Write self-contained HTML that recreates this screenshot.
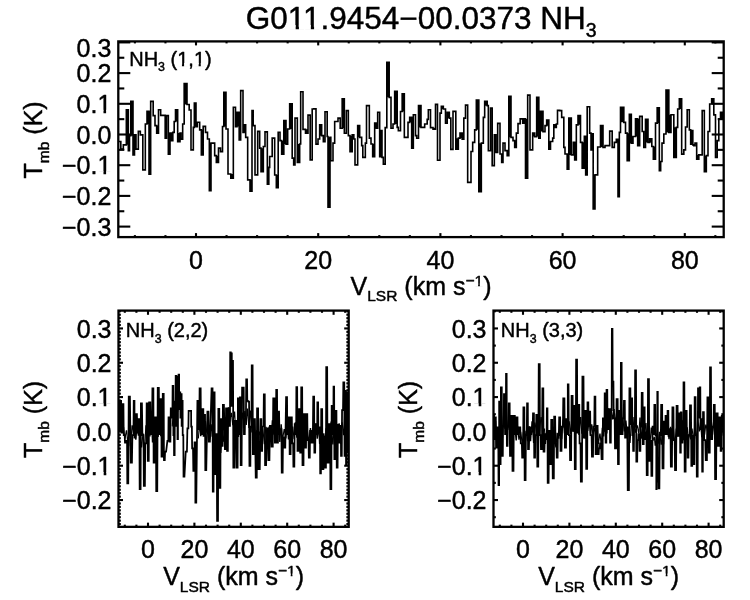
<!DOCTYPE html>
<html><head><meta charset="utf-8"><title>G011.9454-00.0373 NH3</title>
<style>
html,body{margin:0;padding:0;background:#fff;}
body{width:750px;height:600px;overflow:hidden;}
svg{display:block;font-family:"Liberation Sans", sans-serif;fill:#000;will-change:transform;}
text{stroke:#000;stroke-width:0.45px;stroke-linejoin:round;}
</style></head><body>
<svg width="750" height="600" viewBox="0 0 750 600">
<rect width="750" height="600" fill="#fff"/>
<clipPath id="ct"><rect x="118.3" y="41.4" width="605.4" height="195.7"/></clipPath>
<path clip-path="url(#ct)" d="M118.30 141.50 L120.83 141.50 L120.83 149.08 L123.33 149.08 L123.33 144.83 L126.33 144.83 L126.33 109.75 L128.33 109.75 L128.33 150.75 L129.50 150.75 L129.50 135.67 L130.83 135.67 L130.83 101.42 L133.00 101.42 L133.00 154.92 L134.50 154.92 L134.50 134.75 L136.00 134.75 L136.00 149.08 L138.33 149.08 L138.33 131.42 L140.33 131.42 L140.33 134.83 L142.83 134.83 L142.83 169.92 L145.33 169.92 L145.33 124.00 L147.00 124.00 L147.00 111.42 L149.00 111.42 L149.00 174.08 L150.67 174.08 L150.67 101.42 L153.17 101.42 L153.17 115.67 L155.00 115.67 L155.00 125.67 L156.67 125.67 L156.67 133.25 L158.50 133.25 L158.50 109.75 L160.67 109.75 L160.67 115.33 L165.17 115.33 L165.17 138.25 L166.50 138.25 L166.50 115.58 L168.33 115.58 L168.33 154.08 L170.00 154.08 L170.00 133.08 L171.33 133.08 L171.33 140.75 L172.83 140.75 L172.83 132.33 L174.17 132.33 L174.17 121.50 L175.50 121.50 L175.50 109.75 L177.67 109.75 L177.67 141.58 L180.00 141.58 L180.00 133.08 L181.00 133.08 L181.00 139.08 L182.67 139.08 L182.67 124.00 L184.17 124.00 L184.17 83.58 L187.00 83.58 L187.00 104.50 L189.17 104.50 L189.17 110.00 L191.00 110.00 L191.00 149.92 L193.33 149.92 L193.33 127.33 L194.33 127.33 L194.33 103.08 L196.00 103.08 L196.00 126.58 L197.33 126.58 L197.33 122.25 L199.67 122.25 L199.67 129.83 L201.33 129.83 L201.33 154.92 L203.17 154.92 L203.17 126.42 L205.50 126.42 L205.50 132.33 L207.50 132.33 L207.50 139.00 L209.33 139.00 L209.33 190.75 L211.00 190.75 L211.00 143.08 L214.67 143.08 L214.67 155.67 L216.33 155.67 L216.33 162.42 L218.50 162.42 L218.50 148.08 L220.50 148.08 L220.50 151.58 L222.50 151.58 L222.50 126.50 L223.83 126.50 L223.83 92.25 L226.00 92.25 L226.00 129.00 L228.00 129.00 L228.00 174.00 L230.83 174.00 L230.83 178.25 L233.33 178.25 L233.33 107.25 L235.50 107.25 L235.50 126.58 L237.00 126.58 L237.00 112.25 L239.17 112.25 L239.17 139.92 L240.67 139.92 L240.67 90.58 L243.00 90.58 L243.00 132.42 L244.00 132.42 L244.00 124.75 L245.67 124.75 L245.67 137.33 L247.67 137.33 L247.67 179.83 L250.00 179.83 L250.00 191.25 L252.00 191.25 L252.00 110.58 L253.17 110.58 L253.17 125.67 L255.00 125.67 L255.00 174.92 L257.67 174.92 L257.67 131.42 L259.67 131.42 L259.67 148.17 L261.00 148.17 L261.00 171.58 L263.33 171.58 L263.33 146.50 L265.00 146.50 L265.00 131.92 L267.33 131.92 L267.33 184.25 L268.83 184.25 L268.83 167.33 L269.67 167.33 L269.67 156.50 L272.17 156.50 L272.17 138.08 L274.67 138.08 L274.67 175.00 L276.33 175.00 L276.33 187.75 L278.17 187.75 L278.17 132.25 L280.00 132.25 L280.00 140.67 L281.67 140.67 L281.67 154.08 L283.83 154.08 L283.83 120.58 L286.00 120.58 L286.00 144.08 L287.67 144.08 L287.67 129.00 L289.67 129.00 L289.67 103.92 L292.17 103.92 L292.17 158.17 L293.67 158.17 L293.67 164.92 L295.00 164.92 L295.00 118.08 L297.33 118.08 L297.33 162.42 L299.67 162.42 L299.67 144.00 L300.67 144.00 L300.67 91.75 L303.00 91.75 L303.00 129.33 L305.50 129.33 L305.50 133.25 L308.00 133.25 L308.00 115.08 L310.17 115.08 L310.17 159.92 L312.17 159.92 L312.17 109.00 L313.83 109.00 L313.83 108.92 L316.00 108.92 L316.00 144.08 L318.00 144.08 L318.00 139.00 L319.67 139.00 L319.67 124.75 L321.67 124.75 L321.67 135.67 L323.33 135.67 L323.33 141.58 L325.00 141.58 L325.00 111.75 L327.17 111.75 L327.17 136.50 L328.00 136.50 L328.00 207.25 L330.00 207.25 L330.00 137.25 L330.83 137.25 L330.83 160.75 L333.00 160.75 L333.00 143.17 L334.67 143.17 L334.67 121.50 L338.00 121.50 L338.00 118.08 L340.17 118.08 L340.17 128.25 L342.17 128.25 L342.17 98.92 L344.33 98.92 L344.33 133.25 L346.33 133.25 L346.33 110.58 L348.33 110.58 L348.33 135.67 L350.00 135.67 L350.00 151.58 L352.17 151.58 L352.17 134.75 L353.83 134.75 L353.83 139.00 L355.00 139.00 L355.00 164.92 L357.67 164.92 L357.67 125.58 L359.67 125.58 L359.67 137.33 L361.67 137.33 L361.67 145.67 L362.83 145.67 L362.83 157.42 L365.33 157.42 L365.33 143.17 L366.50 143.17 L366.50 105.67 L368.00 105.67 L368.00 105.67 L369.33 105.67 L369.33 138.17 L371.00 138.17 L371.00 144.00 L372.67 144.00 L372.67 156.58 L374.67 156.58 L374.67 123.08 L376.33 123.08 L376.33 128.25 L377.67 128.25 L377.67 112.25 L379.67 112.25 L379.67 156.58 L381.00 156.58 L381.00 130.58 L382.00 130.58 L382.00 157.33 L383.33 157.33 L383.33 164.08 L385.17 164.08 L385.17 127.67 L386.83 127.67 L386.83 62.25 L389.17 62.25 L389.17 97.33 L391.00 97.33 L391.00 128.25 L393.00 128.25 L393.00 124.00 L394.67 124.00 L394.67 91.42 L397.17 91.42 L397.17 127.33 L398.33 127.33 L398.33 130.75 L400.50 130.75 L400.50 111.50 L402.17 111.50 L402.17 93.92 L404.33 93.92 L404.33 137.42 L408.00 137.42 L408.00 122.33 L409.67 122.33 L409.67 117.25 L411.67 117.25 L411.67 148.25 L413.33 148.25 L413.33 114.75 L415.50 114.75 L415.50 135.67 L416.67 135.67 L416.67 138.25 L418.50 138.25 L418.50 105.58 L421.00 105.58 L421.00 127.42 L424.67 127.42 L424.67 124.00 L427.17 124.00 L427.17 119.33 L428.33 119.33 L428.33 109.75 L430.50 109.75 L430.50 127.67 L433.00 127.67 L433.00 129.08 L435.50 129.08 L435.50 104.42 L437.50 104.42 L437.50 160.25 L440.00 160.25 L440.00 113.17 L441.33 113.17 L441.33 106.42 L443.33 106.42 L443.33 109.00 L445.50 109.00 L445.50 123.25 L447.17 123.25 L447.17 112.25 L449.33 112.25 L449.33 118.17 L450.83 118.17 L450.83 149.42 L453.00 149.42 L453.00 111.42 L455.83 111.42 L455.83 149.08 L458.33 149.08 L458.33 138.17 L460.00 138.17 L460.00 133.08 L462.17 133.08 L462.17 139.08 L463.83 139.08 L463.83 118.17 L465.50 118.17 L465.50 105.08 L467.67 105.08 L467.67 182.42 L471.00 182.42 L471.00 151.50 L472.67 151.50 L472.67 142.33 L474.67 142.33 L474.67 129.83 L476.33 129.83 L476.33 100.08 L478.83 100.08 L478.83 191.75 L481.33 191.75 L481.33 143.17 L483.33 143.17 L483.33 117.33 L484.67 117.33 L484.67 101.42 L487.17 101.42 L487.17 105.67 L488.33 105.67 L488.33 150.75 L490.50 150.75 L490.50 108.08 L492.17 108.08 L492.17 165.67 L493.00 165.67 L493.00 165.67 L494.33 165.67 L494.33 134.75 L496.00 134.75 L496.00 152.42 L497.67 152.42 L497.67 123.42 L500.00 123.42 L500.00 154.00 L501.67 154.00 L501.67 162.42 L503.00 162.42 L503.00 143.08 L505.00 143.08 L505.00 150.67 L507.17 150.67 L507.17 155.75 L508.83 155.75 L508.83 96.42 L511.00 96.42 L511.00 137.33 L513.00 137.33 L513.00 140.67 L514.67 140.67 L514.67 147.42 L516.33 147.42 L516.33 133.17 L518.00 133.17 L518.00 123.67 L520.17 123.67 L520.17 118.92 L522.67 118.92 L522.67 123.25 L524.00 123.25 L524.00 118.92 L525.50 118.92 L525.50 178.25 L527.67 178.25 L527.67 95.08 L530.00 95.08 L530.00 149.92 L532.67 149.92 L532.67 133.08 L534.67 133.08 L534.67 136.58 L536.67 136.58 L536.67 97.25 L538.83 97.25 L538.83 138.25 L540.17 138.25 L540.17 111.42 L543.00 111.42 L543.00 131.58 L545.00 131.58 L545.00 125.67 L546.67 125.67 L546.67 120.08 L548.83 120.08 L548.83 149.08 L550.50 149.08 L550.50 141.50 L552.67 141.50 L552.67 138.17 L553.83 138.17 L553.83 124.75 L555.33 124.75 L555.33 127.42 L556.33 127.42 L556.33 124.00 L557.50 124.00 L557.50 110.33 L559.67 110.33 L559.67 110.58 L561.67 110.58 L561.67 117.33 L563.83 117.33 L563.83 147.33 L565.00 147.33 L565.00 154.00 L567.17 154.00 L567.17 169.08 L568.83 169.08 L568.83 118.08 L571.33 118.08 L571.33 154.92 L573.33 154.92 L573.33 142.25 L574.67 142.25 L574.67 159.92 L576.33 159.92 L576.33 124.83 L578.00 124.83 L578.00 115.58 L580.50 115.58 L580.50 142.33 L582.17 142.33 L582.17 168.25 L584.33 168.25 L584.33 136.42 L585.67 136.42 L585.67 174.92 L587.17 174.92 L587.17 106.75 L589.67 106.75 L589.67 133.17 L591.00 133.17 L591.00 149.92 L592.00 149.92 L592.00 133.92 L593.17 133.92 L593.17 208.92 L595.00 208.92 L595.00 174.83 L597.67 174.83 L597.67 147.00 L600.50 147.00 L600.50 125.58 L603.00 125.58 L603.00 147.42 L605.00 147.42 L605.00 145.67 L609.67 145.67 L609.67 131.08 L612.17 131.08 L612.17 147.42 L614.33 147.42 L614.33 142.33 L616.33 142.33 L616.33 139.42 L618.00 139.42 L618.00 196.58 L619.33 196.58 L619.33 132.33 L620.50 132.33 L620.50 107.25 L623.83 107.25 L623.83 122.33 L625.50 122.33 L625.50 133.17 L627.17 133.17 L627.17 160.75 L629.33 160.75 L629.33 114.42 L631.33 114.42 L631.33 143.25 L633.00 143.25 L633.00 136.50 L635.50 136.50 L635.50 118.92 L637.67 118.92 L637.67 145.75 L639.67 145.75 L639.67 116.42 L642.17 116.42 L642.17 131.50 L643.83 131.50 L643.83 147.42 L645.50 147.42 L645.50 119.42 L648.00 119.42 L648.00 142.42 L649.67 142.42 L649.67 138.92 L651.83 138.92 L651.83 146.50 L653.33 146.50 L653.33 159.08 L655.50 159.08 L655.50 123.17 L657.17 123.17 L657.17 107.75 L659.33 107.75 L659.33 170.75 L660.67 170.75 L660.67 161.50 L662.00 161.50 L662.00 143.17 L663.83 143.17 L663.83 134.00 L666.00 134.00 L666.00 90.08 L668.83 90.08 L668.83 132.42 L671.00 132.42 L671.00 114.75 L673.83 114.75 L673.83 157.42 L676.33 157.42 L676.33 127.33 L677.67 127.33 L677.67 109.00 L679.33 109.00 L679.33 98.92 L681.67 98.92 L681.67 154.08 L683.83 154.08 L683.83 149.83 L685.50 149.83 L685.50 127.00 L687.17 127.00 L687.17 109.75 L689.33 109.75 L689.33 129.83 L690.67 129.83 L690.67 144.08 L691.83 144.08 L691.83 130.58 L692.83 130.58 L692.83 144.83 L693.83 144.83 L693.83 145.75 L695.00 145.75 L695.00 143.08 L696.67 143.08 L696.67 159.08 L698.83 159.08 L698.83 154.83 L702.17 154.83 L702.17 110.58 L704.33 110.58 L704.33 171.58 L706.33 171.58 L706.33 155.67 L708.00 155.67 L708.00 131.50 L709.67 131.50 L709.67 104.00 L711.67 104.00 L711.67 98.92 L713.83 98.92 L713.83 114.83 L715.50 114.83 L715.50 157.42 L717.17 157.42 L717.17 140.67 L718.83 140.67 L718.83 119.00 L720.50 119.00 L720.50 112.25 L723.67 112.25 L723.67 134.00 L723.70 134.00" fill="none" stroke="#000" stroke-width="1.6" stroke-linejoin="miter" stroke-linecap="butt"/>
<path clip-path="url(#ct)" d="M126.33 109.75H128.33V144.83H126.33ZM128.33 135.67H129.50V150.75H128.33ZM130.83 101.42H133.00V135.67H130.83ZM133.00 134.75H134.50V154.92H133.00ZM134.50 134.75H136.00V149.08H134.50ZM147.00 111.42H149.00V124.00H147.00ZM149.00 111.42H150.67V174.08H149.00ZM156.67 125.67H158.50V133.25H156.67ZM165.17 115.58H166.50V138.25H165.17ZM168.33 133.08H170.00V154.08H168.33ZM170.00 133.08H171.33V140.75H170.00ZM171.33 133.08H172.83V140.75H171.33ZM175.50 109.75H177.67V121.50H175.50ZM177.67 133.08H180.00V141.58H177.67ZM184.17 83.58H187.00V104.50H184.17ZM194.33 103.08H196.00V126.58H194.33ZM201.33 129.83H203.17V154.92H201.33ZM209.33 143.08H211.00V190.75H209.33ZM216.33 155.67H218.50V162.42H216.33ZM223.83 92.25H226.00V126.50H223.83ZM230.83 174.00H233.33V178.25H230.83ZM237.00 112.25H239.17V126.58H237.00ZM239.17 112.25H240.67V139.92H239.17ZM244.00 124.75H245.67V132.42H244.00ZM250.00 179.83H252.00V191.25H250.00ZM252.00 110.58H253.17V125.67H252.00ZM261.00 148.17H263.33V171.58H261.00ZM267.33 167.33H268.83V184.25H267.33ZM276.33 175.00H278.17V187.75H276.33ZM281.67 140.67H283.83V154.08H281.67ZM283.83 120.58H286.00V144.08H283.83ZM289.67 103.92H292.17V129.00H289.67ZM297.33 144.00H299.67V162.42H297.33ZM305.50 129.33H308.00V133.25H305.50ZM319.67 124.75H321.67V135.67H319.67ZM328.00 137.25H330.00V207.25H328.00ZM342.17 98.92H344.33V128.25H342.17ZM350.00 135.67H352.17V151.58H350.00ZM357.67 125.58H359.67V137.33H357.67ZM372.67 144.00H374.67V156.58H372.67ZM374.67 123.08H376.33V128.25H374.67ZM379.67 130.58H381.00V156.58H379.67ZM381.00 130.58H382.00V156.58H381.00ZM386.83 62.25H389.17V97.33H386.83ZM394.67 91.42H397.17V124.00H394.67ZM402.17 93.92H404.33V111.50H402.17ZM409.67 117.25H411.67V122.33H409.67ZM411.67 117.25H413.33V148.25H411.67ZM418.50 105.58H421.00V127.42H418.50ZM433.00 127.67H435.50V129.08H433.00ZM441.33 106.42H443.33V109.00H441.33ZM447.17 112.25H449.33V118.17H447.17ZM455.83 138.17H458.33V149.08H455.83ZM460.00 133.08H462.17V138.17H460.00ZM462.17 133.08H463.83V139.08H462.17ZM476.33 100.08H478.83V129.83H476.33ZM478.83 143.17H481.33V191.75H478.83ZM484.67 101.42H487.17V105.67H484.67ZM494.33 134.75H496.00V152.42H494.33ZM501.67 154.00H503.00V162.42H501.67ZM507.17 150.67H508.83V155.75H507.17ZM508.83 96.42H511.00V137.33H508.83ZM514.67 140.67H516.33V147.42H514.67ZM522.67 118.92H524.00V123.25H522.67ZM524.00 118.92H525.50V123.25H524.00ZM525.50 118.92H527.67V178.25H525.50ZM532.67 133.08H534.67V136.58H532.67ZM536.67 97.25H538.83V136.58H536.67ZM538.83 111.42H540.17V138.25H538.83ZM540.17 111.42H543.00V131.58H540.17ZM546.67 120.08H548.83V125.67H546.67ZM548.83 141.50H550.50V149.08H548.83ZM555.33 124.75H556.33V127.42H555.33ZM567.17 154.00H568.83V169.08H567.17ZM568.83 118.08H571.33V154.92H568.83ZM573.33 142.25H574.67V154.92H573.33ZM574.67 142.25H576.33V159.92H574.67ZM578.00 115.58H580.50V124.83H578.00ZM582.17 142.33H584.33V168.25H582.17ZM584.33 136.42H585.67V168.25H584.33ZM585.67 136.42H587.17V174.92H585.67ZM591.00 133.92H592.00V149.92H591.00ZM592.00 133.92H593.17V149.92H592.00ZM593.17 174.83H595.00V208.92H593.17ZM600.50 125.58H603.00V147.00H600.50ZM616.33 139.42H618.00V142.33H616.33ZM620.50 107.25H623.83V122.33H620.50ZM627.17 133.17H629.33V160.75H627.17ZM629.33 114.42H631.33V143.25H629.33ZM631.33 136.50H633.00V143.25H631.33ZM635.50 118.92H637.67V136.50H635.50ZM637.67 118.92H639.67V145.75H637.67ZM645.50 119.42H648.00V142.42H645.50ZM649.67 138.92H651.83V142.42H649.67ZM653.33 146.50H655.50V159.08H653.33ZM657.17 107.75H659.33V123.17H657.17ZM659.33 161.50H660.67V170.75H659.33ZM666.00 90.08H668.83V132.42H666.00ZM668.83 114.75H671.00V132.42H668.83ZM673.83 127.33H676.33V157.42H673.83ZM679.33 98.92H681.67V109.00H679.33ZM690.67 130.58H691.83V144.08H690.67ZM691.83 130.58H692.83V144.08H691.83ZM696.67 154.83H698.83V159.08H696.67ZM704.33 155.67H706.33V171.58H704.33ZM711.67 98.92H713.83V104.00H711.67ZM720.50 112.25H723.67V119.00H720.50Z" fill="#000" stroke="none"/>
<clipPath id="cbl"><rect x="118.6" y="310.8" width="230.1" height="215.7"/></clipPath>
<clipPath id="cbr"><rect x="493.6" y="310.8" width="230.1" height="215.7"/></clipPath>
<path clip-path="url(#cbl)" d="M118.20 401.67 L118.94 401.67 L119.22 430.87 L120.05 430.87 L120.29 400.80 L121.11 400.80 L121.39 432.53 L122.28 432.53 L122.56 404.13 L123.44 404.13 L123.72 435.00 L124.67 435.00 L124.99 442.53 L125.94 442.53 L126.22 440.80 L127.05 440.80 L127.29 483.37 L128.27 483.37 L128.73 396.63 L129.93 396.63 L130.73 462.53 L131.93 462.53 L132.40 435.00 L133.44 435.00 L133.72 400.80 L134.47 400.80 L134.53 437.53 L135.40 437.53 L135.76 414.13 L136.93 414.13 L137.40 432.53 L138.32 432.53 L138.52 419.13 L139.34 419.13 L139.66 489.20 L140.61 489.20 L140.89 403.30 L141.93 403.30 L142.40 435.00 L143.51 435.00 L143.83 485.87 L144.90 485.87 L145.26 443.33 L146.34 443.33 L146.66 403.30 L147.55 403.30 L147.79 460.87 L148.74 460.87 L149.10 402.47 L150.27 402.47 L150.73 434.20 L151.93 434.20 L152.40 388.30 L153.38 388.30 L153.62 462.53 L154.57 462.53 L154.93 417.47 L155.94 417.47 L156.22 491.20 L157.27 491.20 L157.73 387.80 L158.84 387.80 L159.16 434.20 L160.17 434.20 L160.49 399.13 L161.32 399.13 L161.52 456.70 L162.40 456.70 L162.76 393.80 L163.71 393.80 L163.95 460.03 L164.78 460.03 L165.06 451.67 L166.10 451.67 L167.40 440.83 L168.32 440.83 L168.52 417.47 L169.21 417.47 L169.45 441.70 L170.40 441.70 L170.76 408.30 L171.63 408.30 L171.70 417.53 L172.38 417.53 L172.62 385.80 L173.30 385.80 L173.37 435.00 L173.97 435.00 L174.03 455.03 L174.65 455.03 L174.85 401.67 L175.48 401.67 L175.68 375.80 L176.30 375.80 L176.30 425.87 L176.80 425.87 L176.87 379.13 L177.47 379.13 L177.47 439.20 L177.97 439.20 L177.97 376.67 L178.47 376.67 L178.53 374.63 L179.13 374.63 L179.20 409.20 L179.80 409.20 L179.80 392.47 L180.30 392.47 L180.37 417.53 L180.97 417.53 L181.03 394.13 L181.63 394.13 L181.63 425.87 L182.13 425.87 L182.13 400.80 L182.63 400.80 L182.70 435.00 L183.32 435.00 L183.52 476.70 L184.43 476.70 L185.73 451.67 L186.93 451.67 L187.40 428.33 L188.38 428.33 L188.62 410.83 L189.60 410.83 L190.23 410.83 L191.13 410.83 L191.20 426.67 L191.88 426.67 L192.12 448.33 L193.01 448.33 L193.33 470.87 L194.28 470.87 L194.56 442.47 L195.30 442.47 L195.37 502.53 L196.27 502.53 L197.40 400.80 L198.30 400.80 L198.37 429.20 L199.24 429.20 L199.60 388.30 L200.67 388.30 L200.99 434.20 L202.07 434.20 L202.43 409.13 L203.32 409.13 L203.52 435.87 L204.15 435.87 L204.35 414.97 L205.05 414.97 L205.29 470.03 L206.27 470.03 L207.40 411.63 L208.51 411.63 L208.83 441.70 L209.93 441.70 L211.57 388.30 L212.55 388.30 L212.79 491.70 L213.55 491.70 L213.79 392.47 L214.61 392.47 L214.89 474.20 L215.71 474.20 L215.95 434.13 L216.78 434.13 L217.06 520.87 L218.01 520.87 L218.33 408.80 L219.28 408.80 L219.56 487.87 L220.38 487.87 L220.62 419.13 L221.44 419.13 L221.72 445.87 L222.61 445.87 L222.89 404.97 L223.93 404.97 L224.90 449.20 L225.82 449.20 L226.02 408.30 L226.78 408.30 L227.06 450.87 L227.88 450.87 L228.12 408.30 L228.94 408.30 L229.22 425.87 L229.98 425.87 L230.18 352.47 L230.80 352.47 L230.80 405.87 L231.30 405.87 L231.30 353.30 L231.80 353.30 L231.80 405.87 L232.30 405.87 L232.30 360.80 L233.01 360.80 L233.33 467.53 L234.43 467.53 L234.90 420.80 L236.10 420.80 L236.57 467.53 L237.61 467.53 L237.89 398.30 L238.71 398.30 L238.95 434.20 L239.65 434.20 L239.85 397.47 L240.48 397.47 L240.68 465.03 L241.60 465.03 L242.07 387.50 L242.97 387.50 L243.03 387.50 L243.71 387.50 L243.95 434.20 L244.78 434.20 L245.06 418.33 L245.94 418.33 L246.22 379.47 L247.05 379.47 L247.29 400.87 L247.98 400.87 L248.18 401.63 L249.07 401.63 L249.43 465.87 L250.38 465.87 L250.62 426.67 L251.44 426.67 L251.72 365.47 L252.61 365.47 L252.89 454.20 L253.71 454.20 L253.95 419.13 L254.93 419.13 L255.73 477.53 L256.78 477.53 L257.06 408.30 L258.10 408.30 L258.57 469.20 L259.77 469.20 L260.40 419.13 L261.30 419.13 L261.37 450.87 L262.17 450.87 L262.49 426.67 L263.51 426.67 L263.83 394.47 L264.78 394.47 L265.06 465.03 L266.10 465.03 L267.07 428.30 L268.11 428.30 L268.39 460.03 L269.43 460.03 L269.90 425.80 L271.10 425.80 L271.57 446.70 L272.77 446.70 L273.23 398.30 L274.43 398.30 L274.90 442.53 L275.94 442.53 L276.22 389.97 L277.05 389.97 L277.29 442.53 L277.98 442.53 L278.18 411.63 L279.07 411.63 L279.43 434.20 L280.38 434.20 L280.62 429.13 L281.44 429.13 L281.72 472.53 L282.67 472.53 L282.99 437.47 L283.94 437.47 L284.22 447.53 L285.27 447.53 L286.07 397.13 L287.05 397.13 L287.29 434.20 L288.11 434.20 L288.39 417.47 L289.34 417.47 L289.66 454.20 L290.61 454.20 L290.89 417.47 L291.84 417.47 L292.16 443.33 L293.11 443.33 L293.39 466.70 L294.34 466.70 L294.66 424.13 L295.47 424.13 L295.53 434.20 L296.15 434.20 L296.35 387.13 L297.17 387.13 L297.49 450.87 L298.60 450.87 L299.07 409.13 L299.98 409.13 L300.18 452.53 L300.94 452.53 L301.22 387.47 L302.17 387.47 L302.49 465.03 L303.51 465.03 L303.83 414.13 L304.78 414.13 L305.06 447.53 L306.01 447.53 L306.33 414.13 L307.28 414.13 L307.56 440.00 L308.51 440.00 L308.83 457.53 L309.78 457.53 L310.06 430.80 L311.10 430.80 L311.57 442.53 L312.77 442.53 L313.23 396.63 L314.15 396.63 L314.35 452.53 L315.17 452.53 L315.49 424.13 L316.32 424.13 L316.52 434.20 L317.15 434.20 L317.35 402.47 L318.11 402.47 L318.39 432.53 L319.15 432.53 L319.35 427.47 L319.98 427.47 L320.18 473.37 L320.94 473.37 L321.22 409.13 L322.17 409.13 L322.49 469.20 L323.44 469.20 L323.72 436.63 L324.67 436.63 L324.99 467.53 L325.94 467.53 L326.22 367.13 L327.17 367.13 L327.49 462.53 L328.60 462.53 L329.07 424.13 L330.11 424.13 L330.39 489.20 L331.34 489.20 L331.66 405.80 L332.48 405.80 L332.68 434.20 L333.32 434.20 L333.52 386.63 L334.15 386.63 L334.35 459.20 L335.17 459.20 L335.49 410.80 L336.44 410.80 L336.72 467.53 L337.61 467.53 L337.89 424.97 L338.84 424.97 L339.16 442.53 L339.98 442.53 L340.18 425.80 L340.82 425.80 L341.02 455.87 L341.78 455.87 L342.06 410.00 L343.01 410.00 L343.33 382.47 L344.28 382.47 L344.56 455.87 L345.30 455.87 L345.37 390.80 L345.97 390.80 L346.03 464.20 L346.65 464.20 L346.85 392.47 L347.48 392.47 L347.68 450.87 L348.30 450.87 L348.37 401.67 L348.97 401.67" fill="none" stroke="#000" stroke-width="1.75" stroke-linejoin="miter" stroke-miterlimit="2" stroke-linecap="butt"/>
<path clip-path="url(#cbl)" d="M119.00 418.95 L119.40 418.95 L120.44 408.80 L120.84 408.80 L121.82 429.48 L122.22 429.48 L123.28 427.43 L123.68 427.43 L124.69 438.10 L125.09 438.10 L126.29 430.74 L126.69 430.74 L127.55 441.48 L127.95 441.48 L129.17 429.96 L129.57 429.96 L130.25 445.69 L130.65 445.69 L131.98 425.92 L132.38 425.92 L133.46 432.61 L133.86 432.61 L134.52 424.50 L134.92 424.50 L135.61 439.20 L136.01 439.20 L136.83 427.81 L137.23 427.81 L138.20 435.31 L138.60 435.31 L139.84 430.83 L140.24 430.83 L141.34 447.01 L141.74 447.01 L142.85 434.02 L143.25 434.02 L144.10 450.70 L144.50 450.70 L145.85 425.84 L146.25 425.84 L147.39 440.48 L147.79 440.48 L148.60 426.03 L149.00 426.03 L149.70 435.99 L150.10 435.99 L151.03 418.18 L151.43 418.18 L152.35 441.99 L152.75 441.99 L154.00 424.97 L154.40 424.97 L155.19 438.07 L155.59 438.07 L156.57 418.40 L156.97 418.40 L157.90 436.46 L158.30 436.46 L159.39 421.88 L159.79 421.88 L160.63 435.58 L161.03 435.58 L161.91 420.34 L162.31 420.34 M171.89 426.00 L172.29 426.00 L173.12 413.91 L173.52 413.91 L174.21 420.66 L174.61 420.66 L175.38 403.43 L175.78 403.43 L176.74 414.10 L177.14 414.10 L178.31 407.95 L178.71 407.95 M198.01 438.01 L198.41 438.01 L199.35 425.12 L199.75 425.12 L200.59 435.75 L200.99 435.75 L202.20 420.12 L202.60 420.12 L203.87 430.63 L204.27 430.63 L205.20 421.66 L205.60 421.66 L206.70 432.20 L207.10 432.20 L208.44 428.29 L208.84 428.29 L209.67 437.99 L210.07 437.99 L210.95 424.84 L211.35 424.84 L212.05 436.31 L212.45 436.31 L213.51 436.50 L213.91 436.50 L214.98 446.90 L215.38 446.90 L216.35 434.50 L216.75 434.50 L217.74 452.59 L218.14 452.59 L219.39 439.45 L219.79 439.45 L220.55 452.53 L220.95 452.53 L222.17 432.33 L222.57 432.33 L223.36 441.12 L223.76 441.12 L225.07 424.07 L225.47 424.07 L226.78 425.82 L227.18 425.82 L228.25 407.69 L228.65 407.69 L229.38 421.51 L229.78 421.51 L231.10 413.36 L231.50 413.36 L232.64 424.62 L233.04 424.62 L234.27 412.06 L234.67 412.06 L235.53 428.24 L235.93 428.24 L237.08 428.06 L237.48 428.06 L238.29 436.52 L238.69 436.52 L239.94 418.92 L240.34 418.92 L241.18 432.16 L241.58 432.16 L242.38 413.07 L242.78 413.07 L243.61 421.06 L244.01 421.06 L244.71 411.67 L245.11 411.67 L246.01 424.40 L246.41 424.40 L247.16 409.13 L247.56 409.13 L248.83 427.47 L249.23 427.47 L250.34 411.09 L250.74 411.09 L251.80 432.03 L252.20 432.03 L252.87 426.91 L253.27 426.91 L254.56 442.79 L254.96 442.79 L256.28 430.70 L256.68 430.70 L257.78 446.70 L258.18 446.70 L259.34 431.96 L259.74 431.96 L261.09 438.26 L261.49 438.26 L262.52 428.45 L262.92 428.45 L264.20 443.67 L264.60 443.67 L265.75 427.35 L266.15 427.35 L267.44 441.05 L267.84 441.05 L268.97 427.06 L269.37 427.06 L270.63 439.55 L271.03 439.55 L272.23 420.78 L272.63 420.78 L273.68 434.15 L274.08 434.15 L275.00 417.73 L275.40 417.73 L276.47 428.12 L276.87 428.12 L277.97 418.49 L278.37 418.49 L279.64 441.33 L280.04 441.33 L280.96 424.86 L281.36 424.86 L282.42 438.54 L282.82 438.54 L284.05 429.48 L284.45 429.48 L285.63 437.84 L286.03 437.84 L287.10 424.91 L287.50 424.91 L288.31 438.84 L288.71 438.84 L289.71 425.61 L290.11 425.61 L291.40 438.70 L291.80 438.70 L292.46 427.15 L292.86 427.15 L293.98 438.64 L294.38 438.64 L295.15 422.68 L295.55 422.68 L296.67 437.14 L297.07 437.14 L298.34 424.62 L298.74 424.62 L299.86 431.28 L300.26 431.28 L301.21 420.66 L301.61 420.66 L302.90 437.83 L303.30 437.83 L304.22 425.01 L304.62 425.01 L305.49 436.93 L305.89 436.93 L306.89 428.33 L307.29 428.33 L308.53 441.07 L308.93 441.07 L310.24 428.51 L310.64 428.51 L311.41 439.29 L311.81 439.29 L312.66 428.40 L313.06 428.40 L314.00 436.62 L314.40 436.62 L315.39 424.38 L315.79 424.38 L317.03 438.14 L317.43 438.14 L318.40 429.72 L318.80 429.72 L319.47 443.53 L319.87 443.53 L320.55 429.53 L320.95 429.53 L322.00 438.11 L322.40 438.11 L323.60 433.90 L324.00 433.90 L324.74 443.85 L325.14 443.85 L325.81 428.91 L326.21 428.91 L327.03 444.51 L327.43 444.51 L328.11 429.17 L328.51 429.17 L329.47 438.54 L329.87 438.54 L330.98 422.03 L331.38 422.03 L332.70 444.02 L333.10 444.02 L333.89 429.48 L334.29 429.48 L335.07 438.17 L335.47 438.17 L336.45 423.99 L336.85 423.99 L337.62 438.09 L338.02 438.09 L338.92 423.81 L339.32 423.81 L340.33 436.70 L340.73 436.70 L341.91 422.91 L342.31 422.91 L343.51 434.82 L343.91 434.82 L344.62 413.20 L345.02 413.20 L346.18 420.64 L346.58 420.64 L347.55 407.59 L347.95 407.59" fill="none" stroke="#000" stroke-width="1.1" stroke-linejoin="miter" stroke-miterlimit="2" stroke-linecap="butt"/>
<path clip-path="url(#cbr)" d="M493.37 415.00 L494.05 415.00 L494.29 439.20 L494.98 439.20 L495.18 417.47 L495.82 417.47 L496.02 447.53 L496.65 447.53 L496.85 427.47 L497.48 427.47 L497.68 443.33 L498.32 443.33 L498.52 485.03 L499.13 485.03 L499.13 401.63 L499.65 401.63 L499.85 464.20 L500.61 464.20 L500.89 387.47 L501.78 387.47 L502.06 455.87 L502.82 455.87 L503.02 426.67 L503.71 426.67 L503.95 394.13 L504.78 394.13 L505.06 434.20 L505.82 434.20 L506.02 373.80 L506.65 373.80 L506.85 445.87 L507.55 445.87 L507.79 426.67 L508.55 426.67 L508.79 403.30 L509.67 403.30 L509.99 455.87 L510.94 455.87 L511.22 415.80 L512.17 415.80 L512.49 470.87 L513.51 470.87 L513.83 415.80 L514.84 415.80 L515.16 434.20 L516.24 434.20 L516.60 417.47 L517.48 417.47 L517.68 434.20 L518.60 434.20 L519.07 427.47 L520.27 427.47 L520.73 443.33 L521.84 443.33 L522.16 457.53 L523.11 457.53 L523.39 407.47 L524.34 407.47 L524.66 480.03 L525.61 480.03 L525.89 435.00 L526.78 435.00 L527.06 403.30 L527.82 403.30 L528.02 449.20 L528.93 449.20 L529.40 427.47 L530.38 427.47 L530.62 434.20 L531.44 434.20 L531.72 431.67 L532.67 431.67 L532.99 413.30 L533.94 413.30 L534.22 457.53 L535.05 457.53 L535.29 435.00 L536.05 435.00 L536.29 414.97 L537.05 414.97 L537.29 466.70 L538.27 466.70 L538.73 364.13 L539.71 364.13 L539.95 435.00 L540.71 435.00 L540.95 449.20 L541.93 449.20 L542.40 388.30 L543.32 388.30 L543.52 451.70 L544.43 451.70 L544.90 434.13 L545.82 434.13 L546.02 439.20 L546.65 439.20 L546.85 408.30 L547.48 408.30 L547.68 482.87 L548.60 482.87 L549.07 430.80 L549.98 430.80 L550.18 464.20 L550.94 464.20 L551.22 419.97 L552.27 419.97 L552.73 478.37 L553.84 478.37 L554.16 416.63 L555.17 416.63 L555.49 443.33 L556.44 443.33 L556.72 457.53 L557.61 457.53 L557.89 435.00 L558.84 435.00 L559.16 417.47 L560.17 417.47 L560.49 450.87 L561.51 450.87 L561.83 426.67 L562.90 426.67 L563.26 398.30 L564.43 398.30 L564.90 447.53 L566.01 447.53 L566.33 419.13 L567.13 419.13 L567.20 434.20 L567.80 434.20 L567.80 384.47 L568.51 384.47 L568.83 435.00 L569.78 435.00 L570.06 460.03 L571.10 460.03 L571.57 395.80 L572.61 395.80 L572.89 430.87 L573.65 430.87 L573.85 405.80 L574.55 405.80 L574.79 469.20 L575.74 469.20 L576.10 359.63 L577.05 359.63 L577.29 432.53 L578.11 432.53 L578.39 404.97 L579.28 404.97 L579.56 443.33 L580.51 443.33 L580.83 481.70 L581.93 481.70 L582.40 376.63 L583.51 376.63 L583.83 437.53 L584.78 437.53 L585.06 410.80 L585.94 410.80 L586.22 468.87 L587.17 468.87 L587.49 402.47 L588.32 402.47 L588.52 425.87 L589.15 425.87 L589.35 411.63 L590.17 411.63 L590.49 435.00 L591.57 435.00 L591.93 456.70 L593.01 456.70 L593.33 426.67 L594.28 426.67 L594.56 396.63 L595.38 396.63 L595.62 454.20 L596.44 454.20 L596.72 425.80 L597.61 425.80 L597.89 454.20 L598.71 454.20 L598.95 448.33 L599.78 448.33 L600.06 443.30 L601.10 443.30 L601.57 459.20 L602.61 459.20 L602.89 418.30 L603.65 418.30 L603.85 430.87 L604.48 430.87 L604.68 393.30 L605.38 393.30 L605.62 442.53 L606.32 442.53 L606.52 389.97 L607.28 389.97 L607.56 429.20 L608.51 429.20 L608.83 409.13 L609.78 409.13 L610.06 442.53 L610.82 442.53 L611.02 410.00 L611.65 410.00 L611.85 328.80 L612.48 328.80 L612.68 381.67 L613.44 381.67 L613.72 418.33 L614.67 418.33 L614.99 448.37 L616.10 448.37 L616.57 399.13 L617.67 399.13 L617.99 464.20 L618.82 464.20 L619.02 410.80 L619.65 410.80 L619.85 434.20 L620.61 434.20 L620.89 362.97 L621.65 362.97 L621.85 434.20 L622.61 434.20 L622.89 418.33 L623.71 418.33 L623.95 400.80 L624.78 400.80 L625.06 437.53 L625.94 437.53 L626.22 427.47 L627.27 427.47 L627.73 490.03 L628.93 490.03 L629.40 388.30 L630.38 388.30 L630.62 424.20 L631.32 424.20 L631.52 398.30 L632.15 398.30 L632.35 435.00 L632.98 435.00 L633.18 450.87 L633.88 450.87 L634.12 426.67 L634.88 426.67 L635.12 370.47 L636.01 370.47 L636.33 461.70 L637.21 461.70 L637.45 440.00 L638.21 440.00 L638.45 434.13 L639.28 434.13 L639.56 450.87 L640.38 450.87 L640.62 426.67 L641.44 426.67 L641.72 392.80 L642.61 392.80 L642.89 444.20 L643.71 444.20 L643.95 407.47 L644.65 407.47 L644.85 439.20 L645.48 439.20 L645.68 432.47 L646.44 432.47 L646.72 475.03 L647.67 475.03 L647.99 379.13 L648.94 379.13 L649.22 460.87 L650.05 460.87 L650.29 440.80 L651.11 440.80 L651.39 475.87 L652.28 475.87 L652.56 426.63 L653.32 426.63 L653.52 434.20 L654.15 434.20 L654.35 404.97 L655.17 404.97 L655.49 435.00 L656.30 435.00 L656.30 489.20 L656.63 489.20 L656.70 435.00 L657.30 435.00 L657.30 391.97 L657.80 391.97 L657.87 481.67 L658.47 481.67 L658.53 488.37 L659.40 488.37 L659.76 435.00 L660.84 435.00 L661.16 404.97 L662.17 404.97 L662.49 468.37 L663.51 468.37 L663.83 421.63 L664.63 421.63 L664.70 434.20 L665.32 434.20 L665.52 415.80 L666.21 415.80 L666.45 434.20 L667.28 434.20 L667.56 410.80 L668.32 410.80 L668.52 435.87 L669.28 435.87 L669.56 429.13 L670.51 429.13 L670.83 466.70 L671.93 466.70 L672.40 407.47 L673.44 407.47 L673.72 440.00 L674.67 440.00 L674.99 470.03 L676.10 470.03 L676.57 405.80 L677.61 405.80 L677.89 435.87 L678.84 435.87 L679.16 413.30 L679.98 413.30 L680.18 452.53 L680.80 452.53 L680.80 412.47 L681.44 412.47 L681.72 442.53 L682.48 442.53 L682.68 435.00 L683.32 435.00 L683.52 382.47 L684.34 382.47 L684.66 471.70 L685.61 471.70 L685.89 410.80 L686.65 410.80 L686.85 435.00 L687.48 435.00 L687.68 457.53 L688.44 457.53 L688.72 435.00 L689.67 435.00 L689.99 405.47 L691.01 405.47 L691.33 465.87 L692.21 465.87 L692.45 435.80 L693.21 435.80 L693.45 464.20 L694.34 464.20 L694.66 397.13 L695.55 397.13 L695.79 435.00 L696.55 435.00 L696.79 476.70 L697.67 476.70 L697.99 388.30 L698.80 388.30 L698.87 417.53 L699.48 417.53 L699.68 387.47 L700.32 387.47 L700.52 429.20 L701.15 429.20 L701.35 419.13 L701.98 419.13 L702.18 471.70 L702.82 471.70 L703.02 412.13 L703.84 412.13 L704.16 440.00 L705.27 440.00 L705.73 460.03 L706.93 460.03 L707.40 397.47 L708.51 397.47 L708.83 452.53 L709.78 452.53 L710.06 367.47 L710.94 367.47 L711.22 439.20 L712.17 439.20 L712.49 426.67 L713.51 426.67 L713.83 404.97 L714.78 404.97 L715.06 479.20 L716.10 479.20 L716.57 413.30 L717.67 413.30 L717.99 445.87 L719.07 445.87 L719.43 417.47 L720.38 417.47 L720.62 450.87 L721.44 450.87 L721.72 415.80 L722.74 415.80 L723.10 426.67 L723.97 426.67" fill="none" stroke="#000" stroke-width="1.75" stroke-linejoin="miter" stroke-miterlimit="2" stroke-linecap="butt"/>
<path clip-path="url(#cbr)" d="M494.00 435.33 L494.40 435.33 L495.29 421.59 L495.69 421.59 L496.54 436.85 L496.94 436.85 L497.83 428.51 L498.23 428.51 L499.57 434.56 L499.97 434.56 L500.93 426.99 L501.33 426.99 L502.22 437.18 L502.62 437.18 L503.50 416.30 L503.90 416.30 L504.85 428.48 L505.25 428.48 L506.21 420.32 L506.61 420.32 L507.56 429.48 L507.96 429.48 L509.17 421.83 L509.57 421.83 L510.36 436.43 L510.76 436.43 L511.61 426.43 L512.01 426.43 L512.82 436.78 L513.22 436.78 L514.42 426.86 L514.82 426.86 L516.00 439.89 L516.40 439.89 L517.46 426.94 L517.86 426.94 L518.78 439.15 L519.18 439.15 L520.38 432.30 L520.78 432.30 L522.09 442.83 L522.49 442.83 L523.23 432.85 L523.63 432.85 L524.52 441.23 L524.92 441.23 L525.85 431.27 L526.25 431.27 L527.36 440.77 L527.76 440.77 L529.06 426.69 L529.46 426.69 L530.34 440.74 L530.74 440.74 L531.88 421.75 L532.28 421.75 L533.44 442.40 L533.84 442.40 L534.63 422.96 L535.03 422.96 L536.37 431.30 L536.77 431.30 L538.06 418.11 L538.46 418.11 L539.21 430.86 L539.61 430.86 L540.90 417.54 L541.30 417.54 L542.56 432.97 L542.96 432.97 L544.14 428.98 L544.54 428.98 L545.19 443.51 L545.59 443.51 L546.86 427.51 L547.26 427.51 L548.27 445.89 L548.67 445.89 L549.44 437.62 L549.84 437.62 L550.66 444.72 L551.06 444.72 L551.84 438.15 L552.24 438.15 L552.98 446.79 L553.38 446.79 L554.14 438.28 L554.54 438.28 L555.74 446.90 L556.14 446.90 L556.93 433.27 L557.33 433.27 L558.60 438.15 L559.00 438.15 L559.88 422.78 L560.28 422.78 L561.46 438.39 L561.86 438.39 L563.07 420.18 L563.47 420.18 L564.34 433.05 L564.74 433.05 L565.94 423.96 L566.34 423.96 L567.21 430.16 L567.61 430.16 L568.89 421.70 L569.29 421.70 L570.41 433.55 L570.81 433.55 L571.72 417.53 L572.12 417.53 L573.40 431.03 L573.80 431.03 L574.72 417.90 L575.12 417.90 L576.01 429.58 L576.41 429.58 L577.51 419.37 L577.91 419.37 L578.79 434.52 L579.19 434.52 L580.48 417.61 L580.88 417.61 L581.68 433.31 L582.08 433.31 L583.38 427.23 L583.78 427.23 L584.88 437.85 L585.28 437.85 L586.05 421.87 L586.45 421.87 L587.55 430.48 L587.95 430.48 L588.98 422.29 L589.38 422.29 L590.36 434.99 L590.76 434.99 L591.48 424.79 L591.88 424.79 L592.75 434.09 L593.15 434.09 L594.30 428.13 L594.70 428.13 L595.85 441.55 L596.25 441.55 L597.07 428.54 L597.47 428.54 L598.13 443.57 L598.53 443.57 L599.75 434.17 L600.15 434.17 L600.96 443.42 L601.36 443.42 L602.18 428.36 L602.58 428.36 L603.51 435.95 L603.91 435.95 L605.02 419.30 L605.42 419.30 L606.60 432.88 L607.00 432.88 L607.70 408.50 L608.10 408.50 L609.44 418.92 L609.84 418.92 L611.03 408.85 L611.43 408.85 L612.16 418.95 L612.56 418.95 L613.84 409.57 L614.24 409.57 L615.15 424.21 L615.55 424.21 L616.71 410.20 L617.11 410.20 L617.84 430.17 L618.24 430.17 L619.38 413.84 L619.78 413.84 L620.95 425.74 L621.35 425.74 L622.46 418.27 L622.86 418.27 L624.14 431.06 L624.54 431.06 L625.68 421.16 L626.08 421.16 L627.37 436.76 L627.77 436.76 L628.54 427.38 L628.94 427.38 L629.75 442.43 L630.15 442.43 L631.34 420.17 L631.74 420.17 L632.54 432.99 L632.94 432.99 L633.90 417.49 L634.30 417.49 L635.38 432.25 L635.78 432.25 L637.02 425.73 L637.42 425.73 L638.57 432.85 L638.97 432.85 L639.83 418.01 L640.23 418.01 L641.03 438.13 L641.43 438.13 L642.69 423.94 L643.09 423.94 L644.24 432.68 L644.64 432.68 L645.73 423.45 L646.13 423.45 L647.00 444.41 L647.40 444.41 L648.52 429.09 L648.92 429.09 L649.87 440.75 L650.27 440.75 L651.11 428.03 L651.51 428.03 L652.65 440.43 L653.05 440.43 L653.98 437.40 L654.38 437.40 L655.07 445.16 L655.47 445.16 L656.69 433.91 L657.09 433.91 L658.17 443.10 L658.57 443.10 L659.34 432.23 L659.74 432.23 L661.01 444.25 L661.41 444.25 L662.17 432.51 L662.57 432.51 L663.30 443.59 L663.70 443.59 L664.36 424.50 L664.76 424.50 L665.53 432.87 L665.93 432.87 L667.28 427.96 L667.68 427.96 L668.82 438.80 L669.22 438.80 L670.42 427.35 L670.82 427.35 L671.94 441.10 L672.34 441.10 L673.06 428.58 L673.46 428.58 L674.62 443.03 L675.02 443.03 L676.13 429.13 L676.53 429.13 L677.63 436.01 L678.03 436.01 L679.29 425.77 L679.69 425.77 L680.52 435.87 L680.92 435.87 L682.18 420.74 L682.58 420.74 L683.32 439.62 L683.72 439.62 L684.52 426.58 L684.92 426.58 L685.82 438.77 L686.22 438.77 L687.02 427.81 L687.42 427.81 L688.26 438.23 L688.66 438.23 L689.46 433.97 L689.86 433.97 L690.64 438.94 L691.04 438.94 L691.77 428.95 L692.17 428.95 L693.31 439.79 L693.71 439.79 L694.67 425.78 L695.07 425.78 L696.41 438.95 L696.81 438.95 L697.54 419.80 L697.94 419.80 L699.15 430.99 L699.55 430.99 L700.34 423.12 L700.74 423.12 L701.59 436.58 L701.99 436.58 L702.92 421.50 L703.32 421.50 L704.35 434.18 L704.75 434.18 L705.70 425.08 L706.10 425.08 L707.39 431.31 L707.79 431.31 L708.53 422.47 L708.93 422.47 L709.76 433.97 L710.16 433.97 L710.84 417.85 L711.24 417.85 L712.31 434.22 L712.71 434.22 L713.54 422.39 L713.94 422.39 L714.74 435.42 L715.14 435.42 L716.17 428.89 L716.57 428.89 L717.44 435.76 L717.84 435.76 L718.55 425.76 L718.95 425.76 L720.30 440.11 L720.70 440.11 L721.58 423.68 L721.98 423.68 L723.09 435.27 L723.49 435.27" fill="none" stroke="#000" stroke-width="1.1" stroke-linejoin="miter" stroke-miterlimit="2" stroke-linecap="butt"/>
<g id="frame-top"><rect x="118.30" y="41.40" width="605.40" height="195.70" fill="none" stroke="#000" stroke-width="2.3"/>
<line x1="118.30" y1="226.60" x2="130.30" y2="226.60" stroke="#000" stroke-width="2.1"/>
<line x1="723.70" y1="226.60" x2="711.70" y2="226.60" stroke="#000" stroke-width="2.1"/>
<line x1="118.30" y1="211.25" x2="124.30" y2="211.25" stroke="#000" stroke-width="2.1"/>
<line x1="723.70" y1="211.25" x2="717.70" y2="211.25" stroke="#000" stroke-width="2.1"/>
<line x1="118.30" y1="195.90" x2="130.30" y2="195.90" stroke="#000" stroke-width="2.1"/>
<line x1="723.70" y1="195.90" x2="711.70" y2="195.90" stroke="#000" stroke-width="2.1"/>
<line x1="118.30" y1="180.55" x2="124.30" y2="180.55" stroke="#000" stroke-width="2.1"/>
<line x1="723.70" y1="180.55" x2="717.70" y2="180.55" stroke="#000" stroke-width="2.1"/>
<line x1="118.30" y1="165.20" x2="130.30" y2="165.20" stroke="#000" stroke-width="2.1"/>
<line x1="723.70" y1="165.20" x2="711.70" y2="165.20" stroke="#000" stroke-width="2.1"/>
<line x1="118.30" y1="149.85" x2="124.30" y2="149.85" stroke="#000" stroke-width="2.1"/>
<line x1="723.70" y1="149.85" x2="717.70" y2="149.85" stroke="#000" stroke-width="2.1"/>
<line x1="118.30" y1="134.50" x2="130.30" y2="134.50" stroke="#000" stroke-width="2.1"/>
<line x1="723.70" y1="134.50" x2="711.70" y2="134.50" stroke="#000" stroke-width="2.1"/>
<line x1="118.30" y1="119.15" x2="124.30" y2="119.15" stroke="#000" stroke-width="2.1"/>
<line x1="723.70" y1="119.15" x2="717.70" y2="119.15" stroke="#000" stroke-width="2.1"/>
<line x1="118.30" y1="103.80" x2="130.30" y2="103.80" stroke="#000" stroke-width="2.1"/>
<line x1="723.70" y1="103.80" x2="711.70" y2="103.80" stroke="#000" stroke-width="2.1"/>
<line x1="118.30" y1="88.45" x2="124.30" y2="88.45" stroke="#000" stroke-width="2.1"/>
<line x1="723.70" y1="88.45" x2="717.70" y2="88.45" stroke="#000" stroke-width="2.1"/>
<line x1="118.30" y1="73.10" x2="130.30" y2="73.10" stroke="#000" stroke-width="2.1"/>
<line x1="723.70" y1="73.10" x2="711.70" y2="73.10" stroke="#000" stroke-width="2.1"/>
<line x1="118.30" y1="57.75" x2="124.30" y2="57.75" stroke="#000" stroke-width="2.1"/>
<line x1="723.70" y1="57.75" x2="717.70" y2="57.75" stroke="#000" stroke-width="2.1"/>
<line x1="118.30" y1="42.40" x2="130.30" y2="42.40" stroke="#000" stroke-width="2.1"/>
<line x1="723.70" y1="42.40" x2="711.70" y2="42.40" stroke="#000" stroke-width="2.1"/>
<line x1="134.90" y1="41.40" x2="134.90" y2="43.40" stroke="#000" stroke-width="2.1"/>
<line x1="134.90" y1="237.10" x2="134.90" y2="235.10" stroke="#000" stroke-width="2.1"/>
<line x1="165.45" y1="41.40" x2="165.45" y2="43.40" stroke="#000" stroke-width="2.1"/>
<line x1="165.45" y1="237.10" x2="165.45" y2="235.10" stroke="#000" stroke-width="2.1"/>
<line x1="196.00" y1="41.40" x2="196.00" y2="45.40" stroke="#000" stroke-width="2.1"/>
<line x1="196.00" y1="237.10" x2="196.00" y2="233.10" stroke="#000" stroke-width="2.1"/>
<line x1="226.55" y1="41.40" x2="226.55" y2="43.40" stroke="#000" stroke-width="2.1"/>
<line x1="226.55" y1="237.10" x2="226.55" y2="235.10" stroke="#000" stroke-width="2.1"/>
<line x1="257.10" y1="41.40" x2="257.10" y2="43.40" stroke="#000" stroke-width="2.1"/>
<line x1="257.10" y1="237.10" x2="257.10" y2="235.10" stroke="#000" stroke-width="2.1"/>
<line x1="287.65" y1="41.40" x2="287.65" y2="43.40" stroke="#000" stroke-width="2.1"/>
<line x1="287.65" y1="237.10" x2="287.65" y2="235.10" stroke="#000" stroke-width="2.1"/>
<line x1="318.20" y1="41.40" x2="318.20" y2="45.40" stroke="#000" stroke-width="2.1"/>
<line x1="318.20" y1="237.10" x2="318.20" y2="233.10" stroke="#000" stroke-width="2.1"/>
<line x1="348.75" y1="41.40" x2="348.75" y2="43.40" stroke="#000" stroke-width="2.1"/>
<line x1="348.75" y1="237.10" x2="348.75" y2="235.10" stroke="#000" stroke-width="2.1"/>
<line x1="379.30" y1="41.40" x2="379.30" y2="43.40" stroke="#000" stroke-width="2.1"/>
<line x1="379.30" y1="237.10" x2="379.30" y2="235.10" stroke="#000" stroke-width="2.1"/>
<line x1="409.85" y1="41.40" x2="409.85" y2="43.40" stroke="#000" stroke-width="2.1"/>
<line x1="409.85" y1="237.10" x2="409.85" y2="235.10" stroke="#000" stroke-width="2.1"/>
<line x1="440.40" y1="41.40" x2="440.40" y2="45.40" stroke="#000" stroke-width="2.1"/>
<line x1="440.40" y1="237.10" x2="440.40" y2="233.10" stroke="#000" stroke-width="2.1"/>
<line x1="470.95" y1="41.40" x2="470.95" y2="43.40" stroke="#000" stroke-width="2.1"/>
<line x1="470.95" y1="237.10" x2="470.95" y2="235.10" stroke="#000" stroke-width="2.1"/>
<line x1="501.50" y1="41.40" x2="501.50" y2="43.40" stroke="#000" stroke-width="2.1"/>
<line x1="501.50" y1="237.10" x2="501.50" y2="235.10" stroke="#000" stroke-width="2.1"/>
<line x1="532.05" y1="41.40" x2="532.05" y2="43.40" stroke="#000" stroke-width="2.1"/>
<line x1="532.05" y1="237.10" x2="532.05" y2="235.10" stroke="#000" stroke-width="2.1"/>
<line x1="562.60" y1="41.40" x2="562.60" y2="45.40" stroke="#000" stroke-width="2.1"/>
<line x1="562.60" y1="237.10" x2="562.60" y2="233.10" stroke="#000" stroke-width="2.1"/>
<line x1="593.15" y1="41.40" x2="593.15" y2="43.40" stroke="#000" stroke-width="2.1"/>
<line x1="593.15" y1="237.10" x2="593.15" y2="235.10" stroke="#000" stroke-width="2.1"/>
<line x1="623.70" y1="41.40" x2="623.70" y2="43.40" stroke="#000" stroke-width="2.1"/>
<line x1="623.70" y1="237.10" x2="623.70" y2="235.10" stroke="#000" stroke-width="2.1"/>
<line x1="654.25" y1="41.40" x2="654.25" y2="43.40" stroke="#000" stroke-width="2.1"/>
<line x1="654.25" y1="237.10" x2="654.25" y2="235.10" stroke="#000" stroke-width="2.1"/>
<line x1="684.80" y1="41.40" x2="684.80" y2="45.40" stroke="#000" stroke-width="2.1"/>
<line x1="684.80" y1="237.10" x2="684.80" y2="233.10" stroke="#000" stroke-width="2.1"/>
<line x1="715.35" y1="41.40" x2="715.35" y2="43.40" stroke="#000" stroke-width="2.1"/>
<line x1="715.35" y1="237.10" x2="715.35" y2="235.10" stroke="#000" stroke-width="2.1"/></g>
<g id="frame-bl"><rect x="118.50" y="310.60" width="230.20" height="216.25" fill="none" stroke="#000" stroke-width="2.3"/>
<line x1="118.50" y1="524.06" x2="120.85" y2="524.06" stroke="#000" stroke-width="2.1"/>
<line x1="348.70" y1="524.06" x2="346.35" y2="524.06" stroke="#000" stroke-width="2.1"/>
<line x1="118.50" y1="520.63" x2="120.85" y2="520.63" stroke="#000" stroke-width="2.1"/>
<line x1="348.70" y1="520.63" x2="346.35" y2="520.63" stroke="#000" stroke-width="2.1"/>
<line x1="118.50" y1="517.20" x2="120.85" y2="517.20" stroke="#000" stroke-width="2.1"/>
<line x1="348.70" y1="517.20" x2="346.35" y2="517.20" stroke="#000" stroke-width="2.1"/>
<line x1="118.50" y1="513.77" x2="120.85" y2="513.77" stroke="#000" stroke-width="2.1"/>
<line x1="348.70" y1="513.77" x2="346.35" y2="513.77" stroke="#000" stroke-width="2.1"/>
<line x1="118.50" y1="510.34" x2="120.85" y2="510.34" stroke="#000" stroke-width="2.1"/>
<line x1="348.70" y1="510.34" x2="346.35" y2="510.34" stroke="#000" stroke-width="2.1"/>
<line x1="118.50" y1="506.90" x2="120.85" y2="506.90" stroke="#000" stroke-width="2.1"/>
<line x1="348.70" y1="506.90" x2="346.35" y2="506.90" stroke="#000" stroke-width="2.1"/>
<line x1="118.50" y1="503.47" x2="120.85" y2="503.47" stroke="#000" stroke-width="2.1"/>
<line x1="348.70" y1="503.47" x2="346.35" y2="503.47" stroke="#000" stroke-width="2.1"/>
<line x1="118.50" y1="500.04" x2="123.00" y2="500.04" stroke="#000" stroke-width="2.1"/>
<line x1="348.70" y1="500.04" x2="344.20" y2="500.04" stroke="#000" stroke-width="2.1"/>
<line x1="118.50" y1="496.61" x2="120.85" y2="496.61" stroke="#000" stroke-width="2.1"/>
<line x1="348.70" y1="496.61" x2="346.35" y2="496.61" stroke="#000" stroke-width="2.1"/>
<line x1="118.50" y1="493.18" x2="120.85" y2="493.18" stroke="#000" stroke-width="2.1"/>
<line x1="348.70" y1="493.18" x2="346.35" y2="493.18" stroke="#000" stroke-width="2.1"/>
<line x1="118.50" y1="489.74" x2="120.85" y2="489.74" stroke="#000" stroke-width="2.1"/>
<line x1="348.70" y1="489.74" x2="346.35" y2="489.74" stroke="#000" stroke-width="2.1"/>
<line x1="118.50" y1="486.31" x2="120.85" y2="486.31" stroke="#000" stroke-width="2.1"/>
<line x1="348.70" y1="486.31" x2="346.35" y2="486.31" stroke="#000" stroke-width="2.1"/>
<line x1="118.50" y1="482.88" x2="120.85" y2="482.88" stroke="#000" stroke-width="2.1"/>
<line x1="348.70" y1="482.88" x2="346.35" y2="482.88" stroke="#000" stroke-width="2.1"/>
<line x1="118.50" y1="479.45" x2="120.85" y2="479.45" stroke="#000" stroke-width="2.1"/>
<line x1="348.70" y1="479.45" x2="346.35" y2="479.45" stroke="#000" stroke-width="2.1"/>
<line x1="118.50" y1="476.02" x2="120.85" y2="476.02" stroke="#000" stroke-width="2.1"/>
<line x1="348.70" y1="476.02" x2="346.35" y2="476.02" stroke="#000" stroke-width="2.1"/>
<line x1="118.50" y1="472.58" x2="120.85" y2="472.58" stroke="#000" stroke-width="2.1"/>
<line x1="348.70" y1="472.58" x2="346.35" y2="472.58" stroke="#000" stroke-width="2.1"/>
<line x1="118.50" y1="469.15" x2="120.85" y2="469.15" stroke="#000" stroke-width="2.1"/>
<line x1="348.70" y1="469.15" x2="346.35" y2="469.15" stroke="#000" stroke-width="2.1"/>
<line x1="118.50" y1="465.72" x2="123.00" y2="465.72" stroke="#000" stroke-width="2.1"/>
<line x1="348.70" y1="465.72" x2="344.20" y2="465.72" stroke="#000" stroke-width="2.1"/>
<line x1="118.50" y1="462.29" x2="120.85" y2="462.29" stroke="#000" stroke-width="2.1"/>
<line x1="348.70" y1="462.29" x2="346.35" y2="462.29" stroke="#000" stroke-width="2.1"/>
<line x1="118.50" y1="458.86" x2="120.85" y2="458.86" stroke="#000" stroke-width="2.1"/>
<line x1="348.70" y1="458.86" x2="346.35" y2="458.86" stroke="#000" stroke-width="2.1"/>
<line x1="118.50" y1="455.42" x2="120.85" y2="455.42" stroke="#000" stroke-width="2.1"/>
<line x1="348.70" y1="455.42" x2="346.35" y2="455.42" stroke="#000" stroke-width="2.1"/>
<line x1="118.50" y1="451.99" x2="120.85" y2="451.99" stroke="#000" stroke-width="2.1"/>
<line x1="348.70" y1="451.99" x2="346.35" y2="451.99" stroke="#000" stroke-width="2.1"/>
<line x1="118.50" y1="448.56" x2="120.85" y2="448.56" stroke="#000" stroke-width="2.1"/>
<line x1="348.70" y1="448.56" x2="346.35" y2="448.56" stroke="#000" stroke-width="2.1"/>
<line x1="118.50" y1="445.13" x2="120.85" y2="445.13" stroke="#000" stroke-width="2.1"/>
<line x1="348.70" y1="445.13" x2="346.35" y2="445.13" stroke="#000" stroke-width="2.1"/>
<line x1="118.50" y1="441.70" x2="120.85" y2="441.70" stroke="#000" stroke-width="2.1"/>
<line x1="348.70" y1="441.70" x2="346.35" y2="441.70" stroke="#000" stroke-width="2.1"/>
<line x1="118.50" y1="438.26" x2="120.85" y2="438.26" stroke="#000" stroke-width="2.1"/>
<line x1="348.70" y1="438.26" x2="346.35" y2="438.26" stroke="#000" stroke-width="2.1"/>
<line x1="118.50" y1="434.83" x2="120.85" y2="434.83" stroke="#000" stroke-width="2.1"/>
<line x1="348.70" y1="434.83" x2="346.35" y2="434.83" stroke="#000" stroke-width="2.1"/>
<line x1="118.50" y1="431.40" x2="123.00" y2="431.40" stroke="#000" stroke-width="2.1"/>
<line x1="348.70" y1="431.40" x2="344.20" y2="431.40" stroke="#000" stroke-width="2.1"/>
<line x1="118.50" y1="427.97" x2="120.85" y2="427.97" stroke="#000" stroke-width="2.1"/>
<line x1="348.70" y1="427.97" x2="346.35" y2="427.97" stroke="#000" stroke-width="2.1"/>
<line x1="118.50" y1="424.54" x2="120.85" y2="424.54" stroke="#000" stroke-width="2.1"/>
<line x1="348.70" y1="424.54" x2="346.35" y2="424.54" stroke="#000" stroke-width="2.1"/>
<line x1="118.50" y1="421.10" x2="120.85" y2="421.10" stroke="#000" stroke-width="2.1"/>
<line x1="348.70" y1="421.10" x2="346.35" y2="421.10" stroke="#000" stroke-width="2.1"/>
<line x1="118.50" y1="417.67" x2="120.85" y2="417.67" stroke="#000" stroke-width="2.1"/>
<line x1="348.70" y1="417.67" x2="346.35" y2="417.67" stroke="#000" stroke-width="2.1"/>
<line x1="118.50" y1="414.24" x2="120.85" y2="414.24" stroke="#000" stroke-width="2.1"/>
<line x1="348.70" y1="414.24" x2="346.35" y2="414.24" stroke="#000" stroke-width="2.1"/>
<line x1="118.50" y1="410.81" x2="120.85" y2="410.81" stroke="#000" stroke-width="2.1"/>
<line x1="348.70" y1="410.81" x2="346.35" y2="410.81" stroke="#000" stroke-width="2.1"/>
<line x1="118.50" y1="407.38" x2="120.85" y2="407.38" stroke="#000" stroke-width="2.1"/>
<line x1="348.70" y1="407.38" x2="346.35" y2="407.38" stroke="#000" stroke-width="2.1"/>
<line x1="118.50" y1="403.94" x2="120.85" y2="403.94" stroke="#000" stroke-width="2.1"/>
<line x1="348.70" y1="403.94" x2="346.35" y2="403.94" stroke="#000" stroke-width="2.1"/>
<line x1="118.50" y1="400.51" x2="120.85" y2="400.51" stroke="#000" stroke-width="2.1"/>
<line x1="348.70" y1="400.51" x2="346.35" y2="400.51" stroke="#000" stroke-width="2.1"/>
<line x1="118.50" y1="397.08" x2="123.00" y2="397.08" stroke="#000" stroke-width="2.1"/>
<line x1="348.70" y1="397.08" x2="344.20" y2="397.08" stroke="#000" stroke-width="2.1"/>
<line x1="118.50" y1="393.65" x2="120.85" y2="393.65" stroke="#000" stroke-width="2.1"/>
<line x1="348.70" y1="393.65" x2="346.35" y2="393.65" stroke="#000" stroke-width="2.1"/>
<line x1="118.50" y1="390.22" x2="120.85" y2="390.22" stroke="#000" stroke-width="2.1"/>
<line x1="348.70" y1="390.22" x2="346.35" y2="390.22" stroke="#000" stroke-width="2.1"/>
<line x1="118.50" y1="386.78" x2="120.85" y2="386.78" stroke="#000" stroke-width="2.1"/>
<line x1="348.70" y1="386.78" x2="346.35" y2="386.78" stroke="#000" stroke-width="2.1"/>
<line x1="118.50" y1="383.35" x2="120.85" y2="383.35" stroke="#000" stroke-width="2.1"/>
<line x1="348.70" y1="383.35" x2="346.35" y2="383.35" stroke="#000" stroke-width="2.1"/>
<line x1="118.50" y1="379.92" x2="120.85" y2="379.92" stroke="#000" stroke-width="2.1"/>
<line x1="348.70" y1="379.92" x2="346.35" y2="379.92" stroke="#000" stroke-width="2.1"/>
<line x1="118.50" y1="376.49" x2="120.85" y2="376.49" stroke="#000" stroke-width="2.1"/>
<line x1="348.70" y1="376.49" x2="346.35" y2="376.49" stroke="#000" stroke-width="2.1"/>
<line x1="118.50" y1="373.06" x2="120.85" y2="373.06" stroke="#000" stroke-width="2.1"/>
<line x1="348.70" y1="373.06" x2="346.35" y2="373.06" stroke="#000" stroke-width="2.1"/>
<line x1="118.50" y1="369.62" x2="120.85" y2="369.62" stroke="#000" stroke-width="2.1"/>
<line x1="348.70" y1="369.62" x2="346.35" y2="369.62" stroke="#000" stroke-width="2.1"/>
<line x1="118.50" y1="366.19" x2="120.85" y2="366.19" stroke="#000" stroke-width="2.1"/>
<line x1="348.70" y1="366.19" x2="346.35" y2="366.19" stroke="#000" stroke-width="2.1"/>
<line x1="118.50" y1="362.76" x2="123.00" y2="362.76" stroke="#000" stroke-width="2.1"/>
<line x1="348.70" y1="362.76" x2="344.20" y2="362.76" stroke="#000" stroke-width="2.1"/>
<line x1="118.50" y1="359.33" x2="120.85" y2="359.33" stroke="#000" stroke-width="2.1"/>
<line x1="348.70" y1="359.33" x2="346.35" y2="359.33" stroke="#000" stroke-width="2.1"/>
<line x1="118.50" y1="355.90" x2="120.85" y2="355.90" stroke="#000" stroke-width="2.1"/>
<line x1="348.70" y1="355.90" x2="346.35" y2="355.90" stroke="#000" stroke-width="2.1"/>
<line x1="118.50" y1="352.46" x2="120.85" y2="352.46" stroke="#000" stroke-width="2.1"/>
<line x1="348.70" y1="352.46" x2="346.35" y2="352.46" stroke="#000" stroke-width="2.1"/>
<line x1="118.50" y1="349.03" x2="120.85" y2="349.03" stroke="#000" stroke-width="2.1"/>
<line x1="348.70" y1="349.03" x2="346.35" y2="349.03" stroke="#000" stroke-width="2.1"/>
<line x1="118.50" y1="345.60" x2="120.85" y2="345.60" stroke="#000" stroke-width="2.1"/>
<line x1="348.70" y1="345.60" x2="346.35" y2="345.60" stroke="#000" stroke-width="2.1"/>
<line x1="118.50" y1="342.17" x2="120.85" y2="342.17" stroke="#000" stroke-width="2.1"/>
<line x1="348.70" y1="342.17" x2="346.35" y2="342.17" stroke="#000" stroke-width="2.1"/>
<line x1="118.50" y1="338.74" x2="120.85" y2="338.74" stroke="#000" stroke-width="2.1"/>
<line x1="348.70" y1="338.74" x2="346.35" y2="338.74" stroke="#000" stroke-width="2.1"/>
<line x1="118.50" y1="335.30" x2="120.85" y2="335.30" stroke="#000" stroke-width="2.1"/>
<line x1="348.70" y1="335.30" x2="346.35" y2="335.30" stroke="#000" stroke-width="2.1"/>
<line x1="118.50" y1="331.87" x2="120.85" y2="331.87" stroke="#000" stroke-width="2.1"/>
<line x1="348.70" y1="331.87" x2="346.35" y2="331.87" stroke="#000" stroke-width="2.1"/>
<line x1="118.50" y1="328.44" x2="123.00" y2="328.44" stroke="#000" stroke-width="2.1"/>
<line x1="348.70" y1="328.44" x2="344.20" y2="328.44" stroke="#000" stroke-width="2.1"/>
<line x1="118.50" y1="325.01" x2="120.85" y2="325.01" stroke="#000" stroke-width="2.1"/>
<line x1="348.70" y1="325.01" x2="346.35" y2="325.01" stroke="#000" stroke-width="2.1"/>
<line x1="118.50" y1="321.58" x2="120.85" y2="321.58" stroke="#000" stroke-width="2.1"/>
<line x1="348.70" y1="321.58" x2="346.35" y2="321.58" stroke="#000" stroke-width="2.1"/>
<line x1="118.50" y1="318.14" x2="120.85" y2="318.14" stroke="#000" stroke-width="2.1"/>
<line x1="348.70" y1="318.14" x2="346.35" y2="318.14" stroke="#000" stroke-width="2.1"/>
<line x1="118.50" y1="314.71" x2="120.85" y2="314.71" stroke="#000" stroke-width="2.1"/>
<line x1="348.70" y1="314.71" x2="346.35" y2="314.71" stroke="#000" stroke-width="2.1"/>
<line x1="118.50" y1="311.28" x2="120.85" y2="311.28" stroke="#000" stroke-width="2.1"/>
<line x1="348.70" y1="311.28" x2="346.35" y2="311.28" stroke="#000" stroke-width="2.1"/>
<line x1="124.80" y1="310.60" x2="124.80" y2="312.80" stroke="#000" stroke-width="2.1"/>
<line x1="124.80" y1="526.85" x2="124.80" y2="524.65" stroke="#000" stroke-width="2.1"/>
<line x1="136.40" y1="310.60" x2="136.40" y2="312.80" stroke="#000" stroke-width="2.1"/>
<line x1="136.40" y1="526.85" x2="136.40" y2="524.65" stroke="#000" stroke-width="2.1"/>
<line x1="148.00" y1="310.60" x2="148.00" y2="314.80" stroke="#000" stroke-width="2.1"/>
<line x1="148.00" y1="526.85" x2="148.00" y2="522.65" stroke="#000" stroke-width="2.1"/>
<line x1="159.60" y1="310.60" x2="159.60" y2="312.80" stroke="#000" stroke-width="2.1"/>
<line x1="159.60" y1="526.85" x2="159.60" y2="524.65" stroke="#000" stroke-width="2.1"/>
<line x1="171.20" y1="310.60" x2="171.20" y2="312.80" stroke="#000" stroke-width="2.1"/>
<line x1="171.20" y1="526.85" x2="171.20" y2="524.65" stroke="#000" stroke-width="2.1"/>
<line x1="182.80" y1="310.60" x2="182.80" y2="312.80" stroke="#000" stroke-width="2.1"/>
<line x1="182.80" y1="526.85" x2="182.80" y2="524.65" stroke="#000" stroke-width="2.1"/>
<line x1="194.40" y1="310.60" x2="194.40" y2="314.80" stroke="#000" stroke-width="2.1"/>
<line x1="194.40" y1="526.85" x2="194.40" y2="522.65" stroke="#000" stroke-width="2.1"/>
<line x1="206.00" y1="310.60" x2="206.00" y2="312.80" stroke="#000" stroke-width="2.1"/>
<line x1="206.00" y1="526.85" x2="206.00" y2="524.65" stroke="#000" stroke-width="2.1"/>
<line x1="217.60" y1="310.60" x2="217.60" y2="312.80" stroke="#000" stroke-width="2.1"/>
<line x1="217.60" y1="526.85" x2="217.60" y2="524.65" stroke="#000" stroke-width="2.1"/>
<line x1="229.20" y1="310.60" x2="229.20" y2="312.80" stroke="#000" stroke-width="2.1"/>
<line x1="229.20" y1="526.85" x2="229.20" y2="524.65" stroke="#000" stroke-width="2.1"/>
<line x1="240.80" y1="310.60" x2="240.80" y2="314.80" stroke="#000" stroke-width="2.1"/>
<line x1="240.80" y1="526.85" x2="240.80" y2="522.65" stroke="#000" stroke-width="2.1"/>
<line x1="252.40" y1="310.60" x2="252.40" y2="312.80" stroke="#000" stroke-width="2.1"/>
<line x1="252.40" y1="526.85" x2="252.40" y2="524.65" stroke="#000" stroke-width="2.1"/>
<line x1="264.00" y1="310.60" x2="264.00" y2="312.80" stroke="#000" stroke-width="2.1"/>
<line x1="264.00" y1="526.85" x2="264.00" y2="524.65" stroke="#000" stroke-width="2.1"/>
<line x1="275.60" y1="310.60" x2="275.60" y2="312.80" stroke="#000" stroke-width="2.1"/>
<line x1="275.60" y1="526.85" x2="275.60" y2="524.65" stroke="#000" stroke-width="2.1"/>
<line x1="287.20" y1="310.60" x2="287.20" y2="314.80" stroke="#000" stroke-width="2.1"/>
<line x1="287.20" y1="526.85" x2="287.20" y2="522.65" stroke="#000" stroke-width="2.1"/>
<line x1="298.80" y1="310.60" x2="298.80" y2="312.80" stroke="#000" stroke-width="2.1"/>
<line x1="298.80" y1="526.85" x2="298.80" y2="524.65" stroke="#000" stroke-width="2.1"/>
<line x1="310.40" y1="310.60" x2="310.40" y2="312.80" stroke="#000" stroke-width="2.1"/>
<line x1="310.40" y1="526.85" x2="310.40" y2="524.65" stroke="#000" stroke-width="2.1"/>
<line x1="322.00" y1="310.60" x2="322.00" y2="312.80" stroke="#000" stroke-width="2.1"/>
<line x1="322.00" y1="526.85" x2="322.00" y2="524.65" stroke="#000" stroke-width="2.1"/>
<line x1="333.60" y1="310.60" x2="333.60" y2="314.80" stroke="#000" stroke-width="2.1"/>
<line x1="333.60" y1="526.85" x2="333.60" y2="522.65" stroke="#000" stroke-width="2.1"/>
<line x1="345.20" y1="310.60" x2="345.20" y2="312.80" stroke="#000" stroke-width="2.1"/>
<line x1="345.20" y1="526.85" x2="345.20" y2="524.65" stroke="#000" stroke-width="2.1"/></g>
<g id="frame-br"><rect x="493.50" y="310.60" width="230.20" height="216.25" fill="none" stroke="#000" stroke-width="2.3"/>
<line x1="493.50" y1="517.20" x2="495.85" y2="517.20" stroke="#000" stroke-width="2.1"/>
<line x1="723.70" y1="517.20" x2="721.35" y2="517.20" stroke="#000" stroke-width="2.1"/>
<line x1="493.50" y1="500.04" x2="498.00" y2="500.04" stroke="#000" stroke-width="2.1"/>
<line x1="723.70" y1="500.04" x2="719.20" y2="500.04" stroke="#000" stroke-width="2.1"/>
<line x1="493.50" y1="482.88" x2="495.85" y2="482.88" stroke="#000" stroke-width="2.1"/>
<line x1="723.70" y1="482.88" x2="721.35" y2="482.88" stroke="#000" stroke-width="2.1"/>
<line x1="493.50" y1="465.72" x2="498.00" y2="465.72" stroke="#000" stroke-width="2.1"/>
<line x1="723.70" y1="465.72" x2="719.20" y2="465.72" stroke="#000" stroke-width="2.1"/>
<line x1="493.50" y1="448.56" x2="495.85" y2="448.56" stroke="#000" stroke-width="2.1"/>
<line x1="723.70" y1="448.56" x2="721.35" y2="448.56" stroke="#000" stroke-width="2.1"/>
<line x1="493.50" y1="431.40" x2="498.00" y2="431.40" stroke="#000" stroke-width="2.1"/>
<line x1="723.70" y1="431.40" x2="719.20" y2="431.40" stroke="#000" stroke-width="2.1"/>
<line x1="493.50" y1="414.24" x2="495.85" y2="414.24" stroke="#000" stroke-width="2.1"/>
<line x1="723.70" y1="414.24" x2="721.35" y2="414.24" stroke="#000" stroke-width="2.1"/>
<line x1="493.50" y1="397.08" x2="498.00" y2="397.08" stroke="#000" stroke-width="2.1"/>
<line x1="723.70" y1="397.08" x2="719.20" y2="397.08" stroke="#000" stroke-width="2.1"/>
<line x1="493.50" y1="379.92" x2="495.85" y2="379.92" stroke="#000" stroke-width="2.1"/>
<line x1="723.70" y1="379.92" x2="721.35" y2="379.92" stroke="#000" stroke-width="2.1"/>
<line x1="493.50" y1="362.76" x2="498.00" y2="362.76" stroke="#000" stroke-width="2.1"/>
<line x1="723.70" y1="362.76" x2="719.20" y2="362.76" stroke="#000" stroke-width="2.1"/>
<line x1="493.50" y1="345.60" x2="495.85" y2="345.60" stroke="#000" stroke-width="2.1"/>
<line x1="723.70" y1="345.60" x2="721.35" y2="345.60" stroke="#000" stroke-width="2.1"/>
<line x1="493.50" y1="328.44" x2="498.00" y2="328.44" stroke="#000" stroke-width="2.1"/>
<line x1="723.70" y1="328.44" x2="719.20" y2="328.44" stroke="#000" stroke-width="2.1"/>
<line x1="493.50" y1="311.28" x2="495.85" y2="311.28" stroke="#000" stroke-width="2.1"/>
<line x1="723.70" y1="311.28" x2="721.35" y2="311.28" stroke="#000" stroke-width="2.1"/>
<line x1="499.80" y1="310.60" x2="499.80" y2="312.80" stroke="#000" stroke-width="2.1"/>
<line x1="499.80" y1="526.85" x2="499.80" y2="524.65" stroke="#000" stroke-width="2.1"/>
<line x1="511.40" y1="310.60" x2="511.40" y2="312.80" stroke="#000" stroke-width="2.1"/>
<line x1="511.40" y1="526.85" x2="511.40" y2="524.65" stroke="#000" stroke-width="2.1"/>
<line x1="523.00" y1="310.60" x2="523.00" y2="314.80" stroke="#000" stroke-width="2.1"/>
<line x1="523.00" y1="526.85" x2="523.00" y2="522.65" stroke="#000" stroke-width="2.1"/>
<line x1="534.60" y1="310.60" x2="534.60" y2="312.80" stroke="#000" stroke-width="2.1"/>
<line x1="534.60" y1="526.85" x2="534.60" y2="524.65" stroke="#000" stroke-width="2.1"/>
<line x1="546.20" y1="310.60" x2="546.20" y2="312.80" stroke="#000" stroke-width="2.1"/>
<line x1="546.20" y1="526.85" x2="546.20" y2="524.65" stroke="#000" stroke-width="2.1"/>
<line x1="557.80" y1="310.60" x2="557.80" y2="312.80" stroke="#000" stroke-width="2.1"/>
<line x1="557.80" y1="526.85" x2="557.80" y2="524.65" stroke="#000" stroke-width="2.1"/>
<line x1="569.40" y1="310.60" x2="569.40" y2="314.80" stroke="#000" stroke-width="2.1"/>
<line x1="569.40" y1="526.85" x2="569.40" y2="522.65" stroke="#000" stroke-width="2.1"/>
<line x1="581.00" y1="310.60" x2="581.00" y2="312.80" stroke="#000" stroke-width="2.1"/>
<line x1="581.00" y1="526.85" x2="581.00" y2="524.65" stroke="#000" stroke-width="2.1"/>
<line x1="592.60" y1="310.60" x2="592.60" y2="312.80" stroke="#000" stroke-width="2.1"/>
<line x1="592.60" y1="526.85" x2="592.60" y2="524.65" stroke="#000" stroke-width="2.1"/>
<line x1="604.20" y1="310.60" x2="604.20" y2="312.80" stroke="#000" stroke-width="2.1"/>
<line x1="604.20" y1="526.85" x2="604.20" y2="524.65" stroke="#000" stroke-width="2.1"/>
<line x1="615.80" y1="310.60" x2="615.80" y2="314.80" stroke="#000" stroke-width="2.1"/>
<line x1="615.80" y1="526.85" x2="615.80" y2="522.65" stroke="#000" stroke-width="2.1"/>
<line x1="627.40" y1="310.60" x2="627.40" y2="312.80" stroke="#000" stroke-width="2.1"/>
<line x1="627.40" y1="526.85" x2="627.40" y2="524.65" stroke="#000" stroke-width="2.1"/>
<line x1="639.00" y1="310.60" x2="639.00" y2="312.80" stroke="#000" stroke-width="2.1"/>
<line x1="639.00" y1="526.85" x2="639.00" y2="524.65" stroke="#000" stroke-width="2.1"/>
<line x1="650.60" y1="310.60" x2="650.60" y2="312.80" stroke="#000" stroke-width="2.1"/>
<line x1="650.60" y1="526.85" x2="650.60" y2="524.65" stroke="#000" stroke-width="2.1"/>
<line x1="662.20" y1="310.60" x2="662.20" y2="314.80" stroke="#000" stroke-width="2.1"/>
<line x1="662.20" y1="526.85" x2="662.20" y2="522.65" stroke="#000" stroke-width="2.1"/>
<line x1="673.80" y1="310.60" x2="673.80" y2="312.80" stroke="#000" stroke-width="2.1"/>
<line x1="673.80" y1="526.85" x2="673.80" y2="524.65" stroke="#000" stroke-width="2.1"/>
<line x1="685.40" y1="310.60" x2="685.40" y2="312.80" stroke="#000" stroke-width="2.1"/>
<line x1="685.40" y1="526.85" x2="685.40" y2="524.65" stroke="#000" stroke-width="2.1"/>
<line x1="697.00" y1="310.60" x2="697.00" y2="312.80" stroke="#000" stroke-width="2.1"/>
<line x1="697.00" y1="526.85" x2="697.00" y2="524.65" stroke="#000" stroke-width="2.1"/>
<line x1="708.60" y1="310.60" x2="708.60" y2="314.80" stroke="#000" stroke-width="2.1"/>
<line x1="708.60" y1="526.85" x2="708.60" y2="522.65" stroke="#000" stroke-width="2.1"/>
<line x1="720.20" y1="310.60" x2="720.20" y2="312.80" stroke="#000" stroke-width="2.1"/>
<line x1="720.20" y1="526.85" x2="720.20" y2="524.65" stroke="#000" stroke-width="2.1"/></g>
<text x="111.30" y="56.50" font-size="25.0" text-anchor="end" >0.3</text>
<text x="111.30" y="82.10" font-size="25.0" text-anchor="end" >0.2</text>
<text x="111.30" y="112.80" font-size="25.0" text-anchor="end" >0.1</text>
<text x="111.30" y="143.50" font-size="25.0" text-anchor="end" >0.0</text>
<text x="111.30" y="174.20" font-size="25.0" text-anchor="end" >−0.1</text>
<text x="111.30" y="204.90" font-size="25.0" text-anchor="end" >−0.2</text>
<text x="111.30" y="235.60" font-size="25.0" text-anchor="end" >−0.3</text>
<text x="196.00" y="269.30" font-size="25.0" text-anchor="middle" >0</text>
<text x="318.20" y="269.30" font-size="25.0" text-anchor="middle" >20</text>
<text x="440.40" y="269.30" font-size="25.0" text-anchor="middle" >40</text>
<text x="562.60" y="269.30" font-size="25.0" text-anchor="middle" >60</text>
<text x="684.80" y="269.30" font-size="25.0" text-anchor="middle" >80</text>
<text x="111.50" y="337.74" font-size="25.0" text-anchor="end" >0.3</text>
<text x="111.50" y="372.06" font-size="25.0" text-anchor="end" >0.2</text>
<text x="111.50" y="406.38" font-size="25.0" text-anchor="end" >0.1</text>
<text x="111.50" y="440.70" font-size="25.0" text-anchor="end" >0.0</text>
<text x="111.50" y="475.02" font-size="25.0" text-anchor="end" >−0.1</text>
<text x="111.50" y="509.34" font-size="25.0" text-anchor="end" >−0.2</text>
<text x="148.00" y="558.40" font-size="25.0" text-anchor="middle" >0</text>
<text x="194.40" y="558.40" font-size="25.0" text-anchor="middle" >20</text>
<text x="240.80" y="558.40" font-size="25.0" text-anchor="middle" >40</text>
<text x="287.20" y="558.40" font-size="25.0" text-anchor="middle" >60</text>
<text x="333.60" y="558.40" font-size="25.0" text-anchor="middle" >80</text>
<text x="486.50" y="337.74" font-size="25.0" text-anchor="end" >0.3</text>
<text x="486.50" y="372.06" font-size="25.0" text-anchor="end" >0.2</text>
<text x="486.50" y="406.38" font-size="25.0" text-anchor="end" >0.1</text>
<text x="486.50" y="440.70" font-size="25.0" text-anchor="end" >0.0</text>
<text x="486.50" y="475.02" font-size="25.0" text-anchor="end" >−0.1</text>
<text x="486.50" y="509.34" font-size="25.0" text-anchor="end" >−0.2</text>
<text x="523.00" y="558.40" font-size="25.0" text-anchor="middle" >0</text>
<text x="569.40" y="558.40" font-size="25.0" text-anchor="middle" >20</text>
<text x="615.80" y="558.40" font-size="25.0" text-anchor="middle" >40</text>
<text x="662.20" y="558.40" font-size="25.0" text-anchor="middle" >60</text>
<text x="708.60" y="558.40" font-size="25.0" text-anchor="middle" >80</text>
<text x="421.00" y="295.00" font-size="25.0" text-anchor="middle">V<tspan font-size="15.5" dy="6.4">LSR</tspan><tspan dy="-6.4"> (km s</tspan><tspan font-size="15.5" dy="-9.5">−1</tspan><tspan dy="9.5">)</tspan></text>
<text x="233.60" y="585.30" font-size="25.0" text-anchor="middle">V<tspan font-size="15.5" dy="6.4">LSR</tspan><tspan dy="-6.4"> (km s</tspan><tspan font-size="15.5" dy="-9.5">−1</tspan><tspan dy="9.5">)</tspan></text>
<text x="608.60" y="585.30" font-size="25.0" text-anchor="middle">V<tspan font-size="15.5" dy="6.4">LSR</tspan><tspan dy="-6.4"> (km s</tspan><tspan font-size="15.5" dy="-9.5">−1</tspan><tspan dy="9.5">)</tspan></text>
<text transform="translate(42.40,139.90) rotate(-90)" font-size="25.0" text-anchor="middle">T<tspan font-size="15.5" dy="6.3">mb</tspan><tspan dy="-6.3"> (K)</tspan></text>
<text transform="translate(42.40,419.40) rotate(-90)" font-size="25.0" text-anchor="middle">T<tspan font-size="15.5" dy="6.3">mb</tspan><tspan dy="-6.3"> (K)</tspan></text>
<text transform="translate(417.40,419.40) rotate(-90)" font-size="25.0" text-anchor="middle">T<tspan font-size="15.5" dy="6.3">mb</tspan><tspan dy="-6.3"> (K)</tspan></text>
<text x="421.2" y="28.6" font-size="31.5" text-anchor="middle">G011.9454−00.0373 NH<tspan font-size="19.5" dy="8">3</tspan></text>
<text x="129.20" y="65.60" font-size="20" text-anchor="start">NH<tspan font-size="12.4" dy="5.2">3</tspan><tspan dy="-5.2"> (1,1)</tspan></text>
<text x="125.80" y="337.30" font-size="20" text-anchor="start">NH<tspan font-size="12.4" dy="5.2">3</tspan><tspan dy="-5.2"> (2,2)</tspan></text>
<text x="500.80" y="337.30" font-size="20" text-anchor="start">NH<tspan font-size="12.4" dy="5.2">3</tspan><tspan dy="-5.2"> (3,3)</tspan></text>
<g id="feet" fill="#fff" stroke="none"><rect x="98.19" y="109.83" width="5.29" height="4.27"/><rect x="106.10" y="109.83" width="5.10" height="4.27"/><rect x="98.19" y="171.23" width="5.29" height="4.27"/><rect x="106.10" y="171.23" width="5.10" height="4.27"/><rect x="98.39" y="403.41" width="5.29" height="4.27"/><rect x="106.30" y="403.41" width="5.10" height="4.27"/><rect x="98.39" y="472.05" width="5.29" height="4.27"/><rect x="106.30" y="472.05" width="5.10" height="4.27"/><rect x="473.39" y="403.41" width="5.29" height="4.27"/><rect x="481.30" y="403.41" width="5.10" height="4.27"/><rect x="473.39" y="472.05" width="5.29" height="4.27"/><rect x="481.30" y="472.05" width="5.10" height="4.27"/><rect x="474.54" y="283.26" width="3.57" height="3.54"/><rect x="479.86" y="283.26" width="3.45" height="3.54"/><rect x="287.14" y="573.56" width="3.57" height="3.54"/><rect x="292.46" y="573.56" width="3.45" height="3.54"/><rect x="662.14" y="573.56" width="3.57" height="3.54"/><rect x="667.46" y="573.56" width="3.45" height="3.54"/><rect x="289.11" y="25.09" width="6.55" height="4.81"/><rect x="298.91" y="25.09" width="6.30" height="4.81"/><rect x="304.28" y="25.09" width="6.55" height="4.81"/><rect x="314.08" y="25.09" width="6.30" height="4.81"/><rect x="177.60" y="63.03" width="4.35" height="3.87"/><rect x="184.09" y="63.03" width="4.20" height="3.87"/><rect x="194.29" y="63.03" width="4.35" height="3.87"/><rect x="200.78" y="63.03" width="4.20" height="3.87"/></g>
</svg>
</body></html>
